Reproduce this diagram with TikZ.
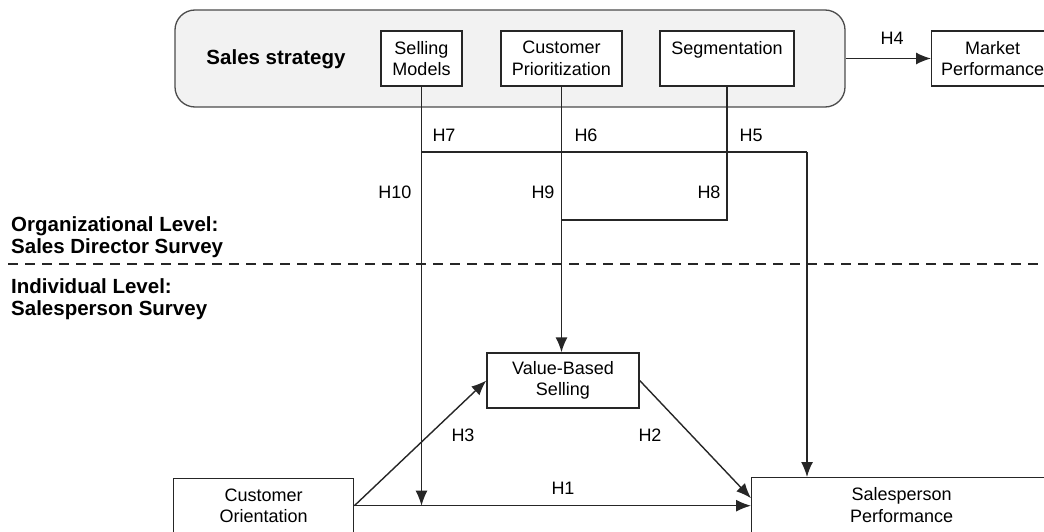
\documentclass[tikz,border=0pt]{standalone}
\usepackage{fontspec}
\setmainfont{Liberation Sans}
\usetikzlibrary{arrows, arrows.meta, positioning}

\begin{document}
\begin{tikzpicture}[x=1pt, y=-1pt, font=\fontsize{18}{21.5}\selectfont]
\tikzstyle{main} = [rectangle, draw=black!85, line width=1.4pt, fill=white, align=center, inner sep=0pt]
\tikzstyle{group} = [rectangle, rounded corners=20pt, draw=black!70, line width=1.3pt, fill=black!5]
\tikzstyle{connect} = [-{Latex[length=15pt, width=12pt]}, line width=1.4pt, draw=black!85]
\tikzstyle{link} = [line width=1.4pt, draw=black!85]
\tikzstyle{level} = [align=left, inner sep=0pt, font=\fontsize{20.5}{22}\selectfont\bfseries]
\tikzstyle{divider} = [line width=1.8pt, dash pattern=on 10pt off 7pt, draw=black!85]
\useasboundingbox (0,0) rectangle (1044,532);
  % organizational level
  \node[group, minimum width=670, minimum height=97] (strategy) at (510,58.5) {};
  \node[level] (strategylabel) at (276,59) {Sales strategy};
  \node[main, minimum width=81, minimum height=55] (sm) at (421.5,58.5) {Selling\\Models};
  \node[main, minimum width=121, minimum height=55] (cp) at (561.5,58.5) {Customer\\Prioritization};
  \node[main, minimum width=134, minimum height=55] (seg) at (727,58.5) {Segmentation\\\mbox{}};
  \node[main, minimum width=122, minimum height=55, anchor=west] (mp) at (931,58.5) {Market\\Performance};
  % individual level
  \node[main, minimum width=152, minimum height=55] (vbs) at (563,380.5) {Value-Based\\Selling};
  \node[main, minimum width=180, minimum height=54, anchor=north west] (co) at (173,478) {Customer\\Orientation};
  \node[main, minimum width=300, minimum height=55, anchor=north west] (sp) at (751,477) {Salesperson\\Performance};
  % level labels
  \node[level, anchor=west] (orglevel) at (11,237) {Organizational Level:\\Sales Director Survey};
  \node[level, anchor=west] (indlevel) at (11,299) {Individual Level:\\Salesperson Survey};
  \coordinate (dl) at (8,264);
  \coordinate (dr) at (1040,264);
  \draw[divider] (dl) -- (dr);
  % junctions
  \coordinate (j7) at (421.5,152);
  \coordinate (k5) at (807,152);
  \coordinate (j8) at (561.5,220);
  \draw[link] (j7) -- (k5);
  \draw[link] (seg.south) |- (j8);
  \draw[connect] (k5) -- (k5 |- sp.north);
  \draw[connect] (cp.south) -- (cp.south |- vbs.north);
  \draw[connect] (sm.south) -- (sm.south |- co.east);
  \draw[connect] (co.east) -- (vbs.west);
  \draw[connect] (co.east) -- (co.east -| sp.west);
  \draw[connect] (vbs.east) -- ([yshift=7pt]sp.west);
  \draw[connect] (strategy.east) -- (mp.west);
  % hypotheses
  \node (h1) at (563,488) {H1};
  \node (h2) at (650,435) {H2};
  \node (h3) at (463,435) {H3};
  \node (h4) at (892,38) {H4};
  \node (h5) at (751,135) {H5};
  \node (h6) at (586,135) {H6};
  \node (h7) at (444,135) {H7};
  \node (h8) at (709,192) {H8};
  \node (h9) at (543,192) {H9};
  \node (h10) at (395,192) {H10};
\end{tikzpicture}
\end{document}
